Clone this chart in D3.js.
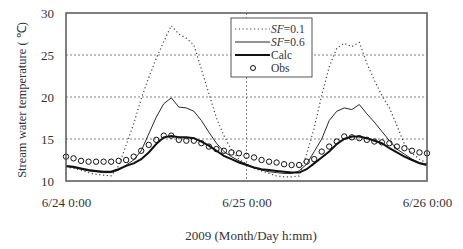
<!DOCTYPE html>
<html><head><meta charset="utf-8">
<script src="https://cdn.jsdelivr.net/npm/d3@7"></script>
<style>
html,body{margin:0;padding:0;background:#fff;}
svg text{font-family:"Liberation Serif","Times New Roman",serif;fill:#333;}
</style></head>
<body><svg id="c" width="463" height="249"></svg>
<script>
// hours from 6/24 0:00 (0..48)
const hours = d3.range(0, 49);
const sf01 = [11.7,11.5,11.3,11.0,10.8,10.7,10.6,11.8,14.3,16.8,19.8,22.3,24.6,26.6,28.5,27.5,27.0,26.2,23.3,20.4,17.5,15.4,13.7,12.6,12.0,11.5,11.2,10.9,10.6,10.5,10.5,10.6,13.2,16.3,20.2,23.6,25.8,26.4,26.0,26.5,24.0,22.0,20.2,18.7,16.6,14.4,13.3,12.6,12.1];
const sf06 = [11.7,11.6,11.4,11.2,11.1,11.0,11.0,11.3,11.9,12.5,13.6,15.6,17.6,19.2,19.9,18.8,18.7,18.3,17.2,15.8,14.5,13.5,12.9,12.4,12.0,11.6,11.3,11.1,11.0,10.9,10.9,11.2,12.0,13.5,15.0,17.2,18.3,18.7,18.5,19.1,18.0,17.0,15.9,14.8,13.8,13.2,12.6,12.2,12.0];
const calc = [11.8,11.7,11.5,11.3,11.2,11.1,11.1,11.4,11.8,12.1,12.6,13.4,14.4,15.2,15.35,15.2,15.2,15.1,14.7,14.2,13.6,13.0,12.6,12.2,11.9,11.6,11.4,11.3,11.2,11.1,11.0,11.0,11.4,12.1,12.8,13.5,14.4,15.0,15.3,15.3,15.1,14.8,14.5,13.9,13.4,12.9,12.5,12.1,11.9];
const obs = [12.9,12.7,12.4,12.3,12.3,12.3,12.3,12.4,12.5,12.9,13.6,14.3,14.9,15.4,15.4,14.9,14.8,14.8,14.5,14.1,13.8,13.6,13.4,13.3,13.0,12.8,12.5,12.3,12.2,12.0,11.9,11.9,12.3,12.6,13.5,14.1,14.7,15.3,15.2,15.1,14.9,14.7,14.6,14.5,14.1,13.9,13.6,13.4,13.3];
const xTicks = [0, 24, 48];
const xTickLabels = ["6/24 0:00", "6/25 0:00", "6/26 0:00"];
const yTicks = [10, 15, 20, 25, 30];
const yGrid = [15, 20, 25];
const xGrid = [24];

const svg = d3.select("#c");
const L = 66, R = 427, T = 13, B = 181;
const x = d3.scaleLinear().domain([0, 48]).range([L, R]);
const y = d3.scaleLinear().domain([10, 30]).range([B, T]);

// grid
svg.append("g").selectAll("line").data(yGrid).join("line")
  .attr("x1", L).attr("x2", R).attr("y1", d => y(d)).attr("y2", d => y(d))
  .attr("stroke", "#666").attr("stroke-width", 0.8).attr("stroke-dasharray", "2,2");
svg.append("g").selectAll("line").data(xGrid).join("line")
  .attr("x1", d => x(d)).attr("x2", d => x(d)).attr("y1", T).attr("y2", B)
  .attr("stroke", "#666").attr("stroke-width", 0.8).attr("stroke-dasharray", "2,2");

const yAxis = svg.append("g").attr("transform", `translate(${L},0)`)
  .call(d3.axisLeft(y).tickValues(yTicks).tickSize(0).tickPadding(12));
yAxis.select(".domain").remove();
yAxis.selectAll("text").attr("font-size", 13).style("font-family", '"Liberation Serif",serif').attr("fill", "#333");

const xAxis = svg.append("g").attr("transform", `translate(0,${B})`)
  .call(d3.axisBottom(x).tickValues(xTicks).tickFormat((d, i) => xTickLabels[i]).tickSize(0).tickPadding(17));
xAxis.select(".domain").remove();
xAxis.selectAll("text").attr("font-size", 13).style("font-family", '"Liberation Serif",serif').attr("fill", "#333");

const line = d3.line().x((d, i) => x(hours[i])).y(d => y(d));
svg.append("path").datum(sf01).attr("d", line).attr("fill", "none")
  .attr("stroke", "#444").attr("stroke-width", 1.2).attr("stroke-dasharray", "1.2,2.6");
svg.append("path").datum(sf06).attr("d", line).attr("fill", "none")
  .attr("stroke", "#111").attr("stroke-width", 0.9);
svg.append("path").datum(calc).attr("d", line).attr("fill", "none")
  .attr("stroke", "#111").attr("stroke-width", 2);
svg.append("g").selectAll("circle").data(obs).join("circle")
  .attr("cx", (d, i) => x(hours[i])).attr("cy", d => y(d)).attr("r", 2.7)
  .attr("fill", "none").attr("stroke", "#111").attr("stroke-width", 1);

// frame
svg.append("rect").attr("x", L).attr("y", T).attr("width", R - L).attr("height", B - T)
  .attr("fill", "none").attr("stroke", "#555").attr("stroke-width", 1.5);

// axis titles
svg.append("text").attr("x", 251).attr("y", 240).attr("text-anchor", "middle")
  .attr("font-size", 13).text("2009 (Month/Day h:mm)");
svg.append("text").attr("transform", "translate(26,100) rotate(-90)").attr("text-anchor", "middle")
  .attr("font-size", 12.5).text("Stream water temperature ( ℃)");

// legend
const lg = svg.append("g");
lg.append("rect").attr("x", 231).attr("y", 18).attr("width", 81).attr("height", 59)
  .attr("fill", "#fff").attr("stroke", "#555").attr("stroke-width", 1);
const items = [
  {sf: "0.1", type: "dot", yy: 29},
  {sf: "0.6", type: "thin", yy: 42},
  {label: "Calc", type: "thick", yy: 55},
  {label: "Obs", type: "obs", yy: 68}
];
items.forEach(it => {
  if (it.type === "obs") {
    lg.append("circle").attr("cx", 253).attr("cy", it.yy).attr("r", 2.5)
      .attr("fill", "none").attr("stroke", "#111").attr("stroke-width", 1);
  } else {
    lg.append("line").attr("x1", 235).attr("x2", 270).attr("y1", it.yy).attr("y2", it.yy)
      .attr("stroke", it.type === "dot" ? "#444" : "#111")
      .attr("stroke-width", it.type === "thick" ? 2 : (it.type === "dot" ? 1.2 : 0.9))
      .attr("stroke-dasharray", it.type === "dot" ? "1.2,2.6" : null);
  }
  const t = lg.append("text").attr("x", 271).attr("y", it.yy + 4).attr("font-size", 11.5);
  if (it.sf) {
    t.append("tspan").attr("font-style", "italic").text("SF");
    t.append("tspan").text("=" + it.sf);
  } else {
    t.text(it.label);
  }
});
</script></body></html>
